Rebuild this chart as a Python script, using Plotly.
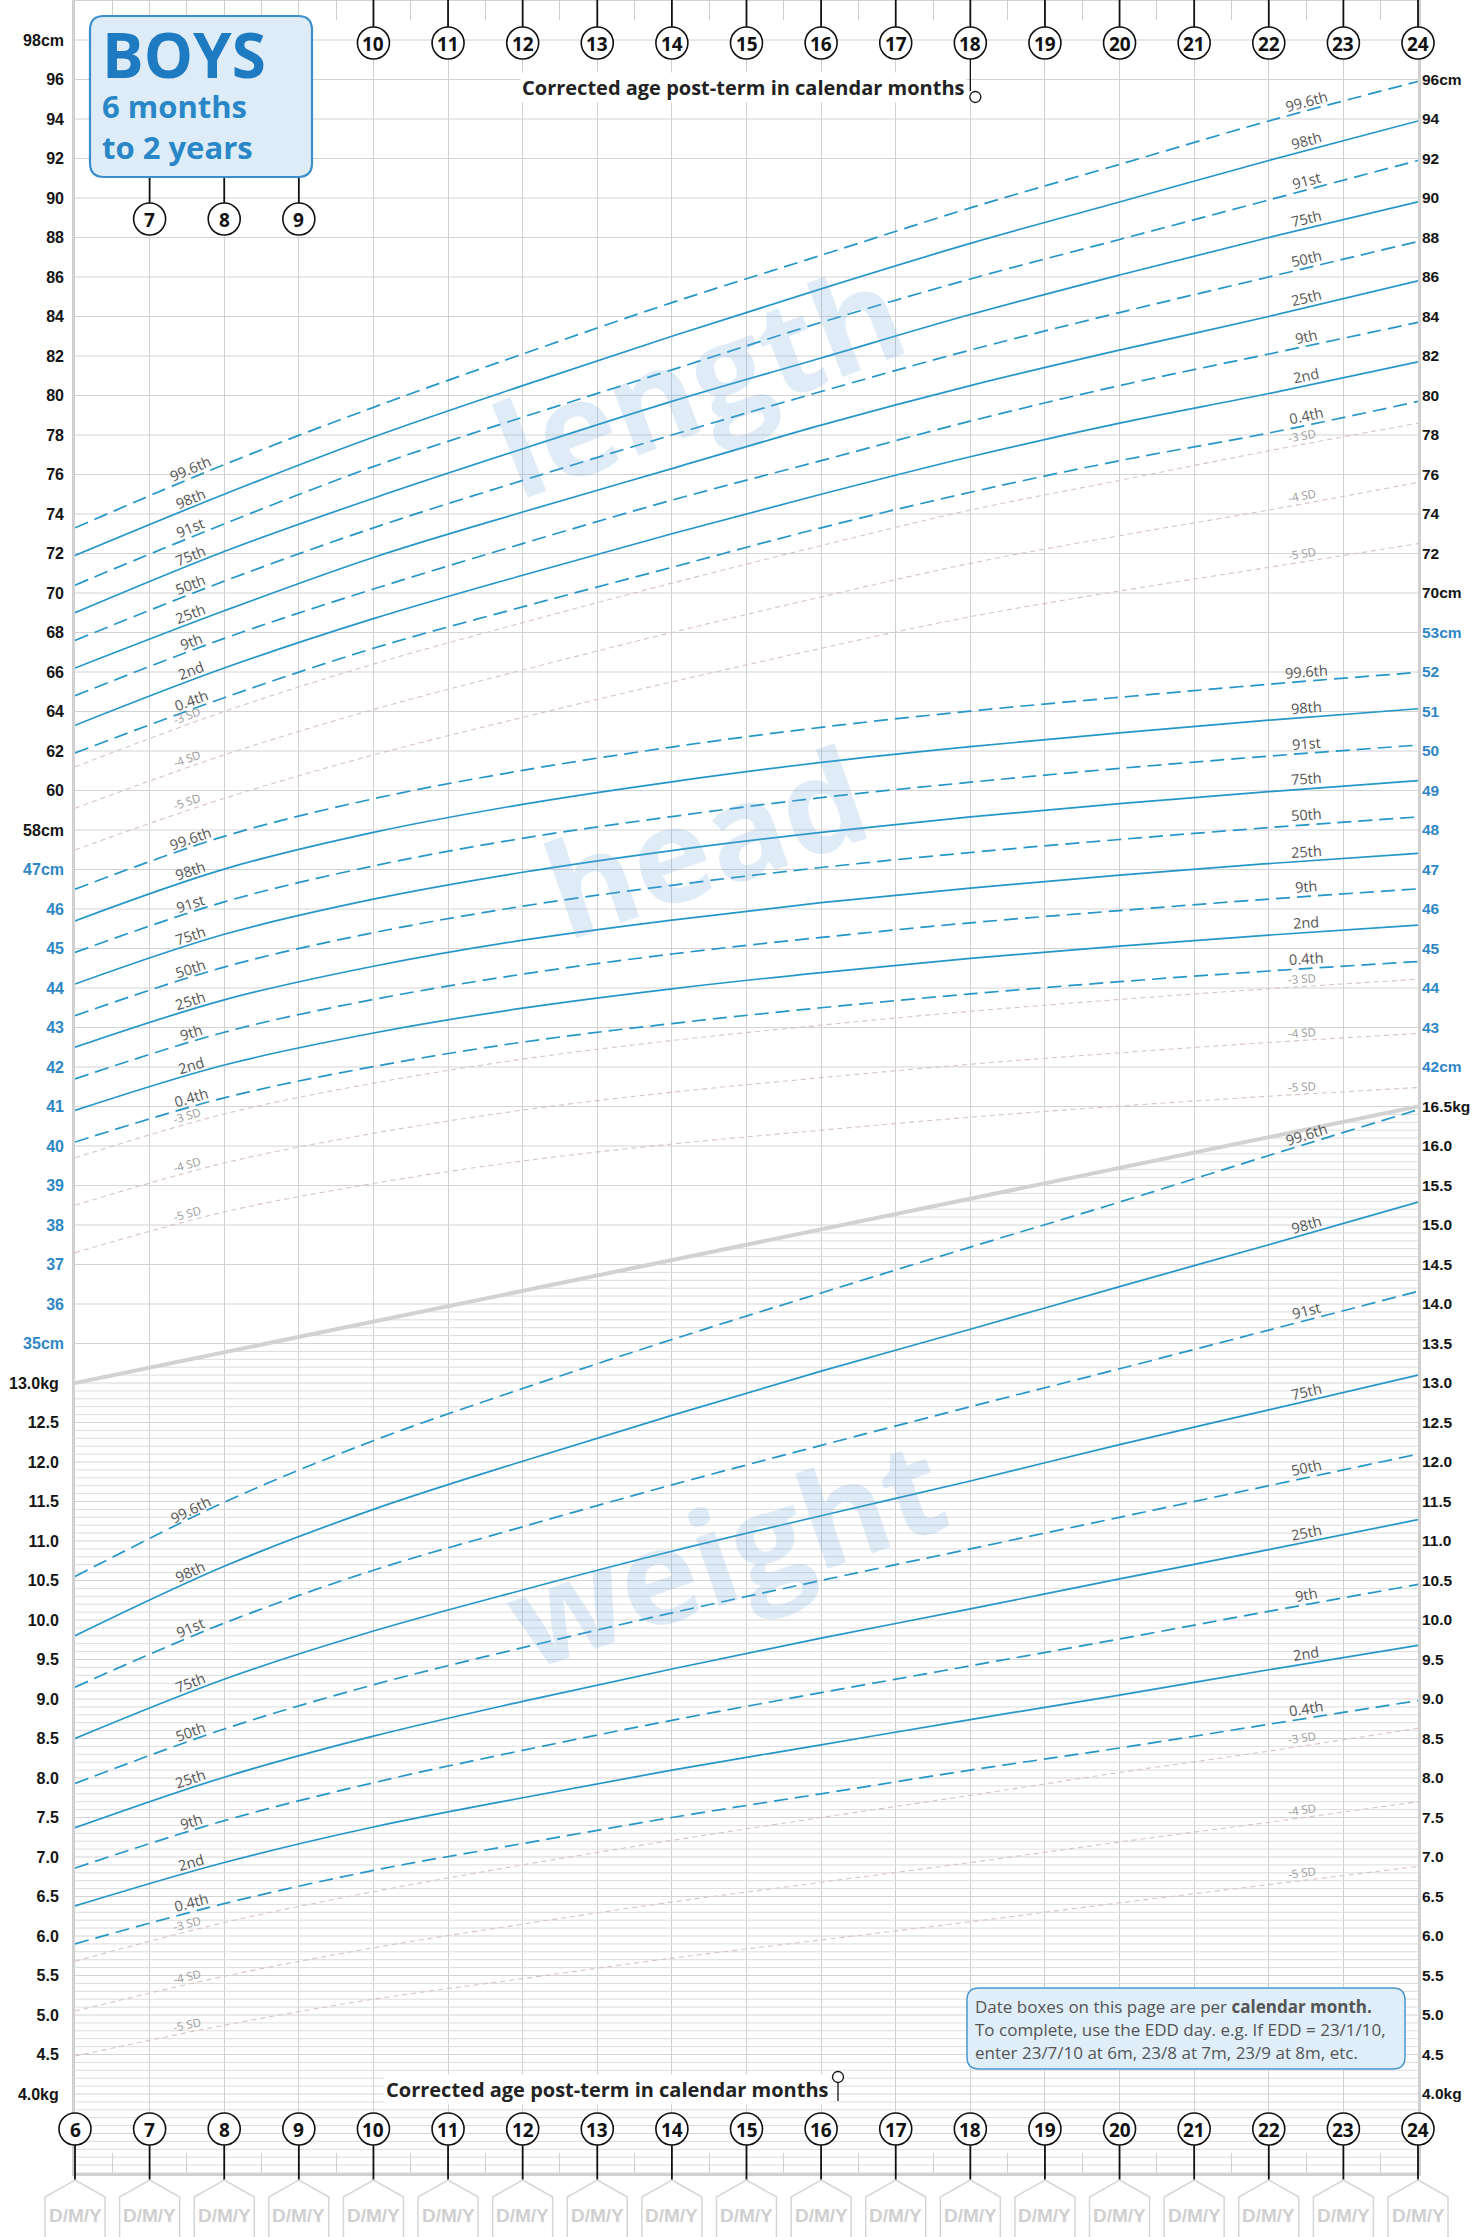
import numpy as np
import plotly.graph_objects as go

# ---------------- data ----------------
MONTHS = [6, 8, 10, 12, 14, 16, 18, 20, 22, 24]

# length (cm)
len_p996 = [73.3, 76.5, 79.4, 82.1, 84.7, 87.1, 89.5, 91.7, 93.9, 95.9]
len_p98 = [71.9, 75.0, 77.9, 80.5, 83.0, 85.4, 87.7, 89.8, 91.9, 93.9]
len_p91 = [70.4, 73.5, 76.4, 78.9, 81.3, 83.7, 85.9, 87.9, 89.9, 91.9]
len_p75 = [69.0, 72.1, 74.8, 77.3, 79.7, 81.9, 84.1, 86.1, 88.0, 89.8]
len_p50 = [67.6, 70.6, 73.3, 75.7, 78.0, 80.2, 82.3, 84.2, 86.0, 87.8]
len_p25 = [66.2, 69.1, 71.8, 74.1, 76.3, 78.5, 80.5, 82.3, 84.0, 85.8]
len_p9 = [64.8, 67.7, 70.2, 72.5, 74.7, 76.7, 78.7, 80.5, 82.1, 83.7]
len_p2 = [63.3, 66.2, 68.7, 70.9, 73.0, 75.0, 76.9, 78.6, 80.1, 81.7]
len_p04 = [61.9, 64.7, 67.2, 69.3, 71.3, 73.3, 75.1, 76.7, 78.1, 79.7]
len_sd3 = [61.2, 64.0, 66.4, 68.5, 70.5, 72.4, 74.2, 75.7, 77.2, 78.6]
len_sd4 = [59.1, 61.8, 64.1, 66.1, 68.0, 69.8, 71.5, 72.9, 74.2, 75.6]
len_sd5 = [57.0, 59.6, 61.8, 63.7, 65.5, 67.2, 68.8, 70.1, 71.3, 72.5]

# head circumference (cm)
hc_p996 = [46.50, 47.84, 48.79, 49.51, 50.10, 50.60, 51.01, 51.36, 51.69, 51.99]
hc_p98 = [45.70, 47.01, 47.94, 48.65, 49.22, 49.71, 50.11, 50.46, 50.78, 51.07]
hc_p91 = [44.90, 46.18, 47.09, 47.79, 48.34, 48.82, 49.21, 49.56, 49.87, 50.15]
hc_p75 = [44.10, 45.36, 46.25, 46.93, 47.48, 47.94, 48.33, 48.67, 48.97, 49.25]
hc_p50 = [43.30, 44.53, 45.40, 46.07, 46.60, 47.05, 47.43, 47.76, 48.06, 48.33]
hc_p25 = [42.50, 43.70, 44.55, 45.21, 45.72, 46.16, 46.53, 46.86, 47.15, 47.41]
hc_p9 = [41.70, 42.88, 43.71, 44.35, 44.86, 45.28, 45.65, 45.96, 46.25, 46.51]
hc_p2 = [40.90, 42.05, 42.86, 43.49, 43.98, 44.39, 44.75, 45.06, 45.34, 45.59]
hc_p04 = [40.10, 41.22, 42.01, 42.63, 43.10, 43.50, 43.85, 44.16, 44.43, 44.67]
hc_sd3 = [39.70, 40.81, 41.59, 42.20, 42.67, 43.06, 43.41, 43.71, 43.98, 44.22]
hc_sd4 = [38.50, 39.57, 40.32, 40.91, 41.36, 41.73, 42.07, 42.36, 42.62, 42.85]
hc_sd5 = [37.30, 38.33, 39.05, 39.62, 40.05, 40.40, 40.73, 41.01, 41.26, 41.48]

# weight (kg)
wt_p996 = [10.55, 11.49, 12.27, 12.93, 13.55, 14.14, 14.72, 15.29, 15.88, 16.46]
wt_p98 = [9.80, 10.68, 11.40, 12.01, 12.59, 13.15, 13.68, 14.22, 14.75, 15.29]
wt_p91 = [9.15, 9.96, 10.63, 11.18, 11.71, 12.21, 12.70, 13.18, 13.67, 14.16]
wt_p75 = [8.50, 9.25, 9.86, 10.38, 10.87, 11.32, 11.76, 12.22, 12.66, 13.10]
wt_p50 = [7.93, 8.62, 9.18, 9.65, 10.09, 10.50, 10.90, 11.30, 11.70, 12.10]
wt_p25 = [7.37, 8.01, 8.53, 8.97, 9.38, 9.77, 10.14, 10.52, 10.89, 11.27]
wt_p9 = [6.86, 7.46, 7.94, 8.35, 8.73, 9.08, 9.42, 9.76, 10.11, 10.45]
wt_p2 = [6.38, 6.93, 7.38, 7.75, 8.10, 8.42, 8.74, 9.05, 9.37, 9.68]
wt_p04 = [5.90, 6.41, 6.83, 7.17, 7.50, 7.80, 8.10, 8.38, 8.68, 8.98]
wt_sd3 = [5.68, 6.17, 6.56, 6.90, 7.21, 7.50, 7.78, 8.07, 8.34, 8.63]
wt_sd4 = [5.05, 5.49, 5.85, 6.15, 6.43, 6.68, 6.93, 7.19, 7.44, 7.70]
wt_sd5 = [4.48, 4.87, 5.20, 5.46, 5.72, 5.95, 6.18, 6.42, 6.65, 6.88]

# boundary between head and weight panels
DIAG_MONTHS = [6, 24]
DIAG_WEIGHT = [13.0, 16.5]

CENTILE_NAMES = ["99.6th", "98th", "91st", "75th", "50th", "25th", "9th", "2nd", "0.4th"]
SD_NAMES = ["-3 SD", "-4 SD", "-5 SD"]

MONTH_TICKS = [6, 7, 8, 9, 10, 11, 12, 13, 14, 15, 16, 17, 18, 19, 20, 21, 22, 23, 24]
LENGTH_LEFT_TICKS = [58, 60, 62, 64, 66, 68, 70, 72, 74, 76, 78, 80, 82, 84, 86, 88, 90, 92, 94, 96, 98]
LENGTH_RIGHT_TICKS = [70, 72, 74, 76, 78, 80, 82, 84, 86, 88, 90, 92, 94, 96]
HEAD_LEFT_TICKS = [35, 36, 37, 38, 39, 40, 41, 42, 43, 44, 45, 46, 47]
HEAD_RIGHT_TICKS = [42, 43, 44, 45, 46, 47, 48, 49, 50, 51, 52, 53]
WEIGHT_LEFT_TICKS = [4.0, 4.5, 5.0, 5.5, 6.0, 6.5, 7.0, 7.5, 8.0, 8.5, 9.0, 9.5,
                     10.0, 10.5, 11.0, 11.5, 12.0, 12.5, 13.0]
WEIGHT_RIGHT_TICKS = [4.0, 4.5, 5.0, 5.5, 6.0, 6.5, 7.0, 7.5, 8.0, 8.5, 9.0, 9.5,
                      10.0, 10.5, 11.0, 11.5, 12.0, 12.5, 13.0, 13.5, 14.0, 14.5,
                      15.0, 15.5, 16.0, 16.5]

length_centiles = [len_p996, len_p98, len_p91, len_p75, len_p50, len_p25, len_p9, len_p2, len_p04]
length_sds = [len_sd3, len_sd4, len_sd5]
head_centiles = [hc_p996, hc_p98, hc_p91, hc_p75, hc_p50, hc_p25, hc_p9, hc_p2, hc_p04]
head_sds = [hc_sd3, hc_sd4, hc_sd5]
weight_centiles = [wt_p996, wt_p98, wt_p91, wt_p75, wt_p50, wt_p25, wt_p9, wt_p2, wt_p04]
weight_sds = [wt_sd3, wt_sd4, wt_sd5]

# ---------------- geometry ----------------
FW, FH = 1475, 2237
ML, MR, MT, MB = 75, 57, 0, 64
PW = FW - ML - MR
PH = FH - MT - MB
STEP = 39.5           # pixels per grid row
Y0 = 40.0             # pixel row of the first labelled line
K_TOP = (MT - Y0) / STEP
K_BOT = (MT + PH - Y0) / STEP


def axis_range(a, b):
    v1, v2 = a + b * K_TOP, a + b * K_BOT
    return [min(v1, v2), max(v1, v2)]


W_RANGE = axis_range(30.0, -0.5)
L_RANGE = axis_range(98.0, -2.0)
H_RANGE = axis_range(68.0, -1.0)
XPPU = PW / 18.0
PPU = {"len": STEP / 2.0, "hc": STEP, "wt": STEP * 2.0}


def pxx(X):
    return (X - ML) / PW


def pxy(Y):
    return 1 - (Y - MT) / PH


def mx(m):
    return ML + (m - 6) / 18.0 * PW


BLUE = "#2596c8"
SDC = "#d9c3be"
GRID = "#d3d3d3"
COND = "Liberation Sans Narrow, Liberation Sans, Arial, sans-serif"
SANS = "Open Sans, Noto Sans, DejaVu Sans, sans-serif"

fig = go.Figure()

# ---------------- grid ----------------
cx_, cy_ = [], []
for j in range(56):
    w = 3.0 + 0.5 * j
    cx_ += [6, 24, None]
    cy_ += [w, w, None]
fx_, fy_ = [], []
for j in range(31, 165):
    if j % 5 == 0:
        continue
    w = j / 10.0
    if w <= DIAG_WEIGHT[0]:
        x0 = 6
    else:
        x0 = DIAG_MONTHS[0] + (w - DIAG_WEIGHT[0]) * (DIAG_MONTHS[1] - DIAG_MONTHS[0]) / (DIAG_WEIGHT[1] - DIAG_WEIGHT[0])
    fx_ += [x0, 24, None]
    fy_ += [w, w, None]
fig.add_trace(go.Scatter(x=fx_, y=fy_, mode="lines", line=dict(color="#dcdcdc", width=1),
                         hoverinfo="skip", showlegend=False, yaxis="y"))
fig.add_trace(go.Scatter(x=cx_, y=cy_, mode="lines", line=dict(color=GRID, width=1),
                         hoverinfo="skip", showlegend=False, yaxis="y"))
fig.add_trace(go.Scatter(x=DIAG_MONTHS, y=DIAG_WEIGHT, mode="lines", line=dict(color="#d2d2d2", width=4),
                         hoverinfo="skip", showlegend=False, yaxis="y"))

# ---------------- curves ----------------
panels = [
    ("wt", weight_centiles, weight_sds, "y", "y2"),
    ("len", length_centiles, length_sds, "y3", "y4"),
    ("hc", head_centiles, head_sds, "y5", "y6"),
]
for key, cents, sds, ax_c, ax_s in panels:
    for i, vals in enumerate(cents):
        dash = "14px,7px" if i % 2 == 0 else "solid"
        fig.add_trace(go.Scatter(x=MONTHS, y=vals, mode="lines",
                                 line=dict(color=BLUE, width=1.7, dash=dash, shape="spline", smoothing=1.0),
                                 hoverinfo="skip", showlegend=False, yaxis=ax_c))
    for vals in sds:
        fig.add_trace(go.Scatter(x=MONTHS, y=vals, mode="lines",
                                 line=dict(color=SDC, width=1.1, dash="5px,4px", shape="spline", smoothing=1.0),
                                 hoverinfo="skip", showlegend=False, yaxis=ax_s))


def angle(vals, x, ppu):
    a = np.interp(x - 0.5, MONTHS, vals)
    b = np.interp(x + 0.5, MONTHS, vals)
    return -float(np.degrees(np.arctan((b - a) * ppu / XPPU)))


annotations = []


def ann(**kw):
    kw.setdefault("showarrow", False)
    kw.setdefault("xanchor", "center")
    kw.setdefault("yanchor", "middle")
    annotations.append(kw)


for key, cents, sds, ax_c, ax_s in panels:
    for xl in (7.55, 22.5):
        for name, vals in zip(CENTILE_NAMES, cents):
            ann(x=xl, y=float(np.interp(xl, MONTHS, vals)), xref="x", yref=ax_c,
                text=name, textangle=angle(vals, xl, PPU[key]),
                yshift=10, font=dict(family=SANS, size=14.5, color="#555555"))
        for name, vals in zip(SD_NAMES, sds):
            ann(x=xl - 0.05, y=float(np.interp(xl, MONTHS, vals)), xref="x", yref=ax_s,
                text=name, textangle=angle(vals, xl, PPU[key]),
                yshift=8, font=dict(family=SANS, size=11.5, color="#9a9a9a"))

# watermarks
for word, X, Y, ang in (("length", 698, 378, -21), ("head", 705, 840, -19), ("weight", 725, 1550, -19)):
    ann(x=pxx(X), y=pxy(Y), xref="paper", yref="paper", text="<b>%s</b>" % word, textangle=ang,
        font=dict(family=SANS, size=132, color="rgba(110,170,220,0.22)"))

# ---------------- decorations ----------------
shapes = []


def circle(cxp, cyp, r, lw=1.6):
    shapes.append(dict(type="circle", xref="paper", yref="paper", x0=pxx(cxp - r), x1=pxx(cxp + r),
                       y0=pxy(cyp + r), y1=pxy(cyp - r), fillcolor="white",
                       line=dict(color="#111111", width=lw), layer="above"))


def vline(X, Ya, Yb, color="#111111", w=1.8):
    shapes.append(dict(type="line", xref="paper", yref="paper", x0=pxx(X), x1=pxx(X),
                       y0=pxy(Ya), y1=pxy(Yb), line=dict(color=color, width=w), layer="above"))


def P(X, Y):
    return "%.6f,%.6f" % (pxx(X), pxy(Y))


def rrect(X0, Y0_, X1, Y1, r, fill, col, lw):
    path = ("M " + P(X0 + r, Y0_) + " L " + P(X1 - r, Y0_) + " Q " + P(X1, Y0_) + " " + P(X1, Y0_ + r) +
            " L " + P(X1, Y1 - r) + " Q " + P(X1, Y1) + " " + P(X1 - r, Y1) +
            " L " + P(X0 + r, Y1) + " Q " + P(X0, Y1) + " " + P(X0, Y1 - r) +
            " L " + P(X0, Y0_ + r) + " Q " + P(X0, Y0_) + " " + P(X0 + r, Y0_) + " Z")
    shapes.append(dict(type="path", xref="paper", yref="paper", path=path, fillcolor=fill,
                       line=dict(color=col, width=lw), layer="above"))


def month_label(m, Y):
    ann(x=pxx(mx(m)), y=pxy(Y), xref="paper", yref="paper", text="<b>%d</b>" % m,
        font=dict(family=SANS, size=19, color="#111111"))


# top month markers
for m in MONTH_TICKS:
    if m >= 10:
        vline(mx(m), 0, 27)
        circle(mx(m), 43, 16)
        month_label(m, 44)
    elif m >= 7:
        vline(mx(m), 177, 203)
        circle(mx(m), 219, 16)
        month_label(m, 220)
# top pin at 18 months
vline(mx(18), 59, 91, w=1.3)
circle(mx(18) + 5, 97, 5.5, lw=1.3)

# bottom month markers and date boxes
for m in MONTH_TICKS:
    X = mx(m)
    vline(X, 2145, 2180)
    circle(X, 2129, 16)
    month_label(m, 2130)
    shapes.append(dict(type="path", xref="paper", yref="paper",
                       path="M " + P(X, 2180) + " L " + P(X + 30, 2197) + " L " + P(X + 30, 2250) +
                            " L " + P(X - 30, 2250) + " L " + P(X - 30, 2197) + " Z",
                       fillcolor="white", line=dict(color="#d6d6d6", width=1.5), layer="above"))
    ann(x=pxx(X), y=pxy(2215), xref="paper", yref="paper", text="<b>D/M/Y</b>",
        font=dict(family=COND, size=19, color="#d0d0d0"))
# bottom pin
vline(838, 2083, 2101, w=1.3)
circle(838, 2077, 5.5, lw=1.3)

# title box (one text block: large first line, two smaller lines)
rrect(90, 16, 312, 177, 14, "#ddecf7", "#3a8ecb", 2.2)
ann(x=pxx(100), y=pxy(90), xref="paper", yref="paper", xanchor="left", align="left",
    text="<span style='font-size:62px;color:#1f7bc1'><b>BOYS</b></span><br><b>6 months</b><br><b>to 2 years</b>",
    font=dict(family=SANS, size=31, color="#2a87c7"))

# axis captions
for X, Y in ((967, 87), (831, 2089)):
    ann(x=pxx(X), y=pxy(Y), xref="paper", yref="paper", xanchor="right",
        text="<b>Corrected age post-term in calendar months</b>",
        bgcolor="white", borderpad=1, font=dict(family=SANS, size=20, color="#222222"))

# info box
rrect(967, 1988, 1405, 2069, 12, "#dfeef9", "#4a96cf", 1.5)
info_lines = ["Date boxes on this page are per <b>calendar month.</b>",
              "To complete, use the EDD day. e.g. If EDD = 23/1/10,",
              "enter 23/7/10 at 6m, 23/8 at 7m, 23/9 at 8m, etc."]
for line, Y in zip(info_lines, (2006, 2029, 2052)):
    ann(x=pxx(973), y=pxy(Y), xref="paper", yref="paper", xanchor="left", text=line,
        font=dict(family=SANS, size=17, color="#555555"))


# ---------------- axes ----------------
def ticktext(vals, unit, fmt):
    out = []
    for i, v in enumerate(vals):
        s = fmt % v
        if i == 0 or i == len(vals) - 1:
            s += unit
        out.append(s)
    return out


def yax(rng, vals, unit, fmt, side, color, overlay=True, standoff=10, size=16):
    d = dict(range=rng, tickmode="array", tickvals=vals, ticktext=ticktext(vals, unit, fmt), side=side,
             showgrid=False, zeroline=False, ticks="", automargin=False, fixedrange=True,
             ticklabelstandoff=standoff,
             tickfont=dict(family=COND, size=size, color=color, weight="bold"))
    if overlay:
        d.update(overlaying="y", anchor="x", showline=False)
    return d


BLACK = "#151515"
HEADC = "#2f87c5"
layout_axes = dict(
    yaxis=yax(W_RANGE, WEIGHT_LEFT_TICKS, "kg", "%.1f", "left", BLACK, overlay=False, standoff=10),
    yaxis2=yax(W_RANGE, WEIGHT_RIGHT_TICKS, "kg", "%.1f", "right", BLACK, standoff=3, size=15.5),
    yaxis3=yax(L_RANGE, LENGTH_LEFT_TICKS, "cm", "%d", "left", BLACK, standoff=10),
    yaxis4=yax(L_RANGE, LENGTH_RIGHT_TICKS, "cm", "%d", "right", BLACK, standoff=3, size=15.5),
    yaxis5=yax(H_RANGE, HEAD_LEFT_TICKS, "cm", "%d", "left", HEADC, standoff=10),
    yaxis6=yax(H_RANGE, HEAD_RIGHT_TICKS, "cm", "%d", "right", HEADC, standoff=3, size=15.5),
)
layout_axes["yaxis"].update(showline=True, mirror=True, linecolor="#d0d0d0", linewidth=3)

fig.update_layout(
    width=FW, height=FH,
    margin=dict(l=ML, r=MR, t=MT, b=MB, pad=0),
    paper_bgcolor="white", plot_bgcolor="white",
    showlegend=False,
    xaxis=dict(range=[6, 24], tickmode="linear", tick0=6, dtick=1, showgrid=True, gridcolor="#cfcfcf",
               gridwidth=1, showticklabels=False, zeroline=False, ticks="inside", ticklen=20,
               tickcolor="#cfcfcf", tickwidth=1, showline=True, linecolor="#d0d0d0", linewidth=3,
               mirror="ticks", fixedrange=True, automargin=False,
               minor=dict(dtick=0.5, tick0=6, ticks="inside", ticklen=20, tickcolor="#cfcfcf",
                          tickwidth=1, showgrid=False)),
    annotations=annotations,
    shapes=shapes,
    **layout_axes,
)

fig.write_html("out.html", config={"displayModeBar": False},
               post_script="document.body.style.margin='0';document.body.style.overflow='hidden';")
